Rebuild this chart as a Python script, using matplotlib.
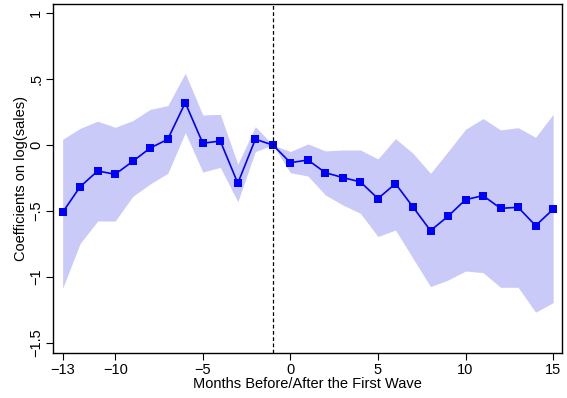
import numpy as np
import matplotlib
matplotlib.use("Agg")
import matplotlib.pyplot as plt

plt.rcParams["font.family"] = ["Liberation Sans", "DejaVu Sans"]

# Event-study estimates, months relative to the first wave
months = list(range(-13, 16))
coef = [-0.51, -0.316, -0.197, -0.222, -0.124, -0.023, 0.043, 0.32, 0.013, 0.03,
        -0.29, 0.043, 0.0, -0.134, -0.114, -0.21, -0.247, -0.28, -0.406, -0.293,
        -0.47, -0.649, -0.54, -0.414, -0.384, -0.48, -0.472, -0.611, -0.487]
ci_upper = [0.043, 0.126, 0.18, 0.134, 0.184, 0.27, 0.298, 0.543, 0.227, 0.232,
            -0.146, 0.139, 0.0, -0.05, 0.008, -0.045, -0.038, -0.038, -0.106, 0.048,
            -0.063, -0.215, -0.05, 0.119, 0.2, 0.114, 0.131, 0.058, 0.232]
ci_lower = [-1.086, -0.745, -0.576, -0.576, -0.39, -0.295, -0.215, 0.093, -0.205, -0.17,
            -0.43, -0.05, 0.0, -0.21, -0.235, -0.379, -0.455, -0.518, -0.694, -0.644,
            -0.859, -1.073, -1.023, -0.955, -0.967, -1.078, -1.078, -1.267, -1.194]

xticks = [-13, -10, -5, 0, 5, 10, 15]
yticks = [1, 0.5, 0, -0.5, -1, -1.5]
ytick_labels = ["1", ".5", "0", "\u2212.5", "\u22121", "\u22121.5"]

fig = plt.figure(figsize=(5.67, 3.98), dpi=100)
ax = fig.add_axes([0.0935, 0.113, 0.8975, 0.877])

ax.fill_between(months, ci_lower, ci_upper, color="#CACAF8", linewidth=0)
ax.plot(months, coef, color="#0000FF", linewidth=1.2, marker="s",
        markersize=5.4, markerfacecolor="#0000FF", markeredgewidth=0)
ax.axvline(-1, color="black", linestyle=(0, (3, 2)), linewidth=0.9)

ax.set_xlim(-13.55, 15.5)
ax.set_ylim(-1.576, 1.068)
ax.set_xticks(xticks)
ax.set_xticklabels(["\u2212" + str(-t) if t < 0 else str(t) for t in xticks])
ax.set_yticks(yticks)
ax.set_yticklabels(ytick_labels, rotation=90, va="center")

ax.tick_params(direction="out", length=5, width=0.8, labelsize=10.5, pad=2)
for s in ax.spines.values():
    s.set_linewidth(1.0)

ax.set_xlabel("Months Before/After the First Wave", fontsize=10.5, labelpad=0)
ax.set_ylabel("Coefficients on log(sales)", fontsize=10.5, labelpad=1)

fig.savefig("out.png", dpi=100)
